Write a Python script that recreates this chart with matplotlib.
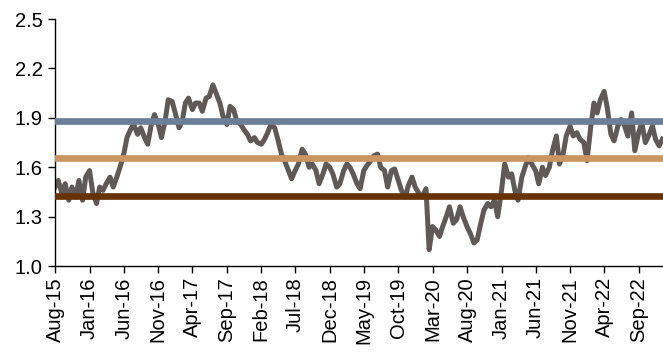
import matplotlib
matplotlib.use("Agg")
import matplotlib.pyplot as plt
import matplotlib.dates as mdates
import pandas as pd

# semi-monthly readings, starting 1 Aug 2015
values = [
    1.48, 1.52, 1.44, 1.50, 1.40, 1.48, 1.42, 1.52, 1.40, 1.54,
    1.58, 1.45, 1.38, 1.48, 1.46, 1.50, 1.54, 1.48, 1.54, 1.60,
    1.68, 1.78, 1.83, 1.86, 1.80, 1.84, 1.78, 1.74, 1.86, 1.92,
    1.86, 1.78, 1.88, 2.01, 2.00, 1.93, 1.84, 1.88, 1.99, 2.02,
    1.95, 1.99, 1.99, 1.94, 2.02, 2.03, 2.10, 2.05, 1.99, 1.91,
    1.86, 1.97, 1.95, 1.88, 1.86, 1.83, 1.80, 1.76, 1.78, 1.75,
    1.74, 1.77, 1.81, 1.86, 1.84, 1.77, 1.68, 1.64, 1.58, 1.53,
    1.58, 1.62, 1.71, 1.68, 1.60, 1.62, 1.58, 1.50, 1.56, 1.62,
    1.60, 1.56, 1.48, 1.50, 1.58, 1.62, 1.60, 1.56, 1.50, 1.47,
    1.58, 1.61, 1.64, 1.67, 1.68, 1.60, 1.58, 1.48, 1.58, 1.59,
    1.52, 1.46, 1.42, 1.49, 1.54, 1.48, 1.44, 1.42, 1.47, 1.10,
    1.24, 1.22, 1.18, 1.24, 1.30, 1.36, 1.26, 1.28, 1.36, 1.30,
    1.24, 1.20, 1.14, 1.16, 1.26, 1.34, 1.38, 1.36, 1.40, 1.30,
    1.46, 1.62, 1.54, 1.56, 1.46, 1.40, 1.54, 1.60, 1.66, 1.62,
    1.58, 1.50, 1.60, 1.55, 1.60, 1.70, 1.79, 1.62, 1.68, 1.79,
    1.85, 1.79, 1.81, 1.77, 1.75, 1.64, 1.85, 1.99, 1.93, 2.01,
    2.06, 1.96, 1.80, 1.76, 1.85, 1.89, 1.85, 1.79, 1.93, 1.70,
    1.81, 1.87, 1.75, 1.79, 1.85, 1.77, 1.73, 1.77,
]
dates = pd.date_range("2015-08-01", periods=len(values), freq="SMS")

# reference levels
upper = 1.883
mid = 1.654
lower = 1.427

tick_dates = pd.date_range("2015-08-01", "2022-09-01", freq="5MS")

plt.rcParams["font.family"] = ["Liberation Sans", "DejaVu Sans"]

fig = plt.figure(figsize=(6.63, 3.52), dpi=100)
ax = fig.add_axes([0.083, 0.244, 0.917, 0.702])

ax.plot(dates, values, color="#5f5a57", lw=3.6, solid_joinstyle="round", zorder=2)
ax.axhline(upper, color="#6b7f99", lw=4.8, zorder=3)
ax.axhline(mid, color="#c99561", lw=4.8, zorder=3)
ax.axhline(lower, color="#663300", lw=4.8, zorder=3)

ax.set_ylim(1.0, 2.5)
ax.set_yticks([1.0, 1.3, 1.6, 1.9, 2.2, 2.5])
ax.yaxis.set_major_formatter(matplotlib.ticker.FormatStrFormatter("%.1f"))
ax.set_xlim(pd.Timestamp("2015-08-01"), pd.Timestamp("2022-12-18"))
ax.set_xticks(tick_dates)
ax.xaxis.set_major_formatter(mdates.DateFormatter("%b-%y"))

for s in ["top", "right"]:
    ax.spines[s].set_visible(False)
for s in ["left", "bottom"]:
    ax.spines[s].set_color("black")
    ax.spines[s].set_linewidth(1.0)

ax.tick_params(axis="y", direction="out", length=5, width=1, labelsize=14.5, pad=4)
ax.tick_params(axis="x", direction="out", length=5, width=1, labelsize=14.5,
               rotation=90, pad=3)

fig.savefig("out.png", dpi=100)
